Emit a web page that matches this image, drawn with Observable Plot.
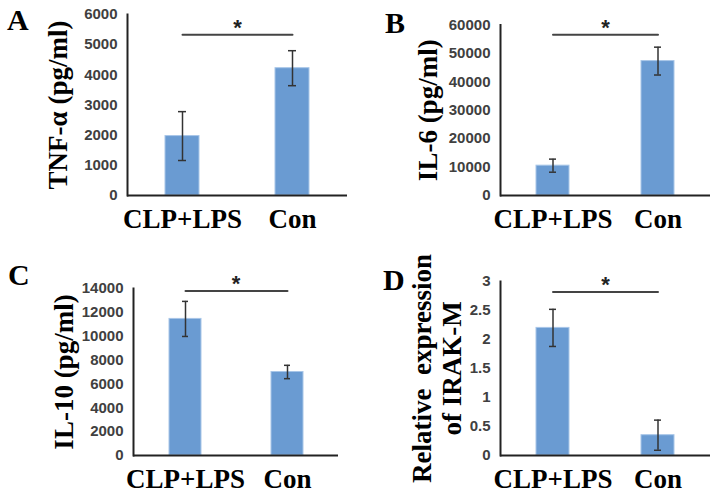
<!DOCTYPE html>
<html>
<head>
<meta charset="utf-8">
<script src="https://cdn.jsdelivr.net/npm/d3@7"></script>
<script src="https://cdn.jsdelivr.net/npm/@observablehq/plot@0.6"></script>
<style>
  html, body { margin: 0; padding: 0; background: #fff; }
  #wrap { position: relative; width: 718px; height: 493px; overflow: hidden; background: #fff; }
  .panel { position: absolute; }
  .panel svg { overflow: visible; }
  .letter { position: absolute; font-family: "Liberation Serif", "Times New Roman", serif; font-weight: bold; font-size: 30px; line-height: 30px; color: #000; }
</style>
</head>
<body>
<div id="wrap"></div>
<script>
// ---- data ----
const groups = ["CLP+LPS", "Con"];

const tnfMean = [1970, 4220];
const tnfErr  = [810, 580];
const tnfSig  = 5330;

const il6Mean = [10500, 47300];
const il6Err  = [2300, 4900];
const il6Sig  = 56550;

const il10Mean = [11450, 7000];
const il10Err  = [1470, 560];
const il10Sig  = 13780;

const irakMean = [2.2, 0.35];
const irakErr  = [0.32, 0.26];
const irakSig  = 2.82;

const panelLetters = ["A", "B", "C", "D"];
const yLabels = ["TNF-α (pg/ml)", "IL-6 (pg/ml)", "IL-10 (pg/ml)", "Relative  expression\nof IRAK-M"];
const yMaxes = [6000, 60000, 14000, 3];
const yTicks = [
  [0, 1000, 2000, 3000, 4000, 5000, 6000],
  [0, 10000, 20000, 30000, 40000, 50000, 60000],
  [0, 2000, 4000, 6000, 8000, 10000, 12000, 14000],
  [0, 0.5, 1, 1.5, 2, 2.5, 3]
];

// ---- layout (panel boxes) ----
const panels = [
  {mean: tnfMean, err: tnfErr, sig: tnfSig, left: 0, top: 0, w: 359, h: 246, ml: 127, mr: 12, mt: 14, mb: 51, ldx: -70, letter: [7, 5]},
  {mean: il6Mean, err: il6Err, sig: il6Sig, left: 359, top: 0, w: 359, h: 246, ml: 141, mr: 8, mt: 24.5, mb: 51, ldx: -73, letter: [385, 8]},
  {mean: il10Mean, err: il10Err, sig: il10Sig, left: 0, top: 246, w: 359, h: 247, ml: 133, mr: 21, mt: 42, mb: 38, ldx: -70.5, letter: [8, 260]},
  {mean: irakMean, err: irakErr, sig: irakSig, left: 359, top: 246, w: 359, h: 247, ml: 141, mr: 8, mt: 35, mb: 38, ldx: -64, letter: [383, 265]}
];

const wrap = document.getElementById("wrap");

panels.forEach((p, k) => {
  const data = groups.map((g, i) => ({group: g, mean: p.mean[i], err: p.err[i]}));
  const chart = Plot.plot({
    width: p.w,
    height: p.h,
    marginLeft: p.ml,
    marginRight: p.mr,
    marginTop: p.mt,
    marginBottom: p.mb,
    style: {background: "transparent", overflow: "visible"},
    x: {type: "band", domain: groups, paddingInner: 0.69, paddingOuter: 0.345, label: null},
    y: {domain: [0, yMaxes[k]], label: null},
    marks: [
      Plot.axisY({ticks: yTicks[k], tickSize: 0, tickPadding: 10, tickFormat: d => String(d),
        fontSize: 15, fontWeight: "bold", fontFamily: "Liberation Sans, Arial, sans-serif", fill: "#404040", label: null}),
      Plot.axisX({tickSize: 0, tickPadding: 13, fontSize: 27, fontWeight: "bold",
        fontFamily: "Liberation Serif, Times New Roman, serif", fill: "#000", label: null}),
      Plot.barY(data, {x: "group", y: "mean", fill: "#6a9bd2", stroke: "#a8c6e8", strokeWidth: 1}),
      Plot.ruleX(data, {x: "group", y1: d => d.mean - d.err, y2: d => d.mean + d.err, stroke: "#333", strokeWidth: 1.5}),
      Plot.tickY(data, {x: "group", y: d => d.mean + d.err, insetLeft: 13, insetRight: 13, stroke: "#333", strokeWidth: 1.5}),
      Plot.tickY(data, {x: "group", y: d => d.mean - d.err, insetLeft: 13, insetRight: 13, stroke: "#333", strokeWidth: 1.5}),
      Plot.ruleY([0], {stroke: "#222", strokeWidth: 2}),
      Plot.frame({anchor: "left", stroke: "#222", strokeWidth: 2}),
      Plot.line(groups.map(g => ({group: g, v: p.sig})), {x: "group", y: "v", stroke: "#444", strokeWidth: 2}),
      Plot.text([p.sig], {y: d => d, text: () => "*", frameAnchor: "middle", lineAnchor: "bottom", dy: 0,
        fontSize: 22, fontWeight: "bold", fontFamily: "Liberation Sans, Arial, sans-serif", fill: "#222"}),
      Plot.text([yLabels[k]], {text: d => d, frameAnchor: "left", rotate: -90, dx: p.ldx, textAnchor: "middle",
        lineHeight: 1.11, fontSize: 27, fontWeight: "bold", fontFamily: "Liberation Serif, Times New Roman, serif", fill: "#000"})
    ]
  });
  const div = document.createElement("div");
  div.className = "panel";
  div.style.left = p.left + "px";
  div.style.top = p.top + "px";
  div.appendChild(chart);
  wrap.appendChild(div);

  const lt = document.createElement("div");
  lt.className = "letter";
  lt.textContent = panelLetters[k];
  lt.style.left = p.letter[0] + "px";
  lt.style.top = p.letter[1] + "px";
  wrap.appendChild(lt);
});
</script>
</body>
</html>
